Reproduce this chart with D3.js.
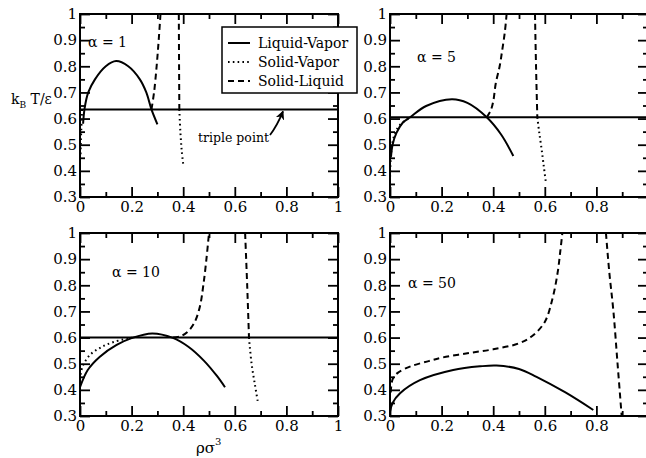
<!DOCTYPE html>
<html>
<head>
<meta charset="utf-8">
<script src="https://cdn.jsdelivr.net/npm/d3@7"></script>
<style>
  html, body { margin: 0; padding: 0; background: #fff; }
  svg { display: block; }
  text { font-family: "DejaVu Serif", "Liberation Serif", serif; fill: #000; }
</style>
</head>
<body>
<svg id="chart" width="646" height="458"></svg>
<script>
// ---------------- data ----------------
const xTickValues = [0, 0.2, 0.4, 0.6, 0.8, 1];
const xMinorTicks = [0.1, 0.3, 0.5, 0.7, 0.9];
const yTickValues = [0.3, 0.4, 0.5, 0.6, 0.7, 0.8, 0.9, 1];
const yMinorTicks = [0.35, 0.45, 0.55, 0.65, 0.75, 0.85, 0.95];
const alphas = [1, 5, 10, 50];
const triplePointT = [0.635, 0.605, 0.6, null];
const seriesNames = ["Liquid-Vapor", "Solid-Vapor", "Solid-Liquid"];

// alpha = 1
const lv1  = [[0.012,0.58],[0.018,0.64],[0.032,0.70],[0.058,0.75],[0.10,0.80],[0.14,0.82],[0.187,0.80],[0.232,0.75],[0.257,0.70],[0.277,0.635],[0.30,0.578]];
const sv1a = [[0.008,0.635],[0.005,0.56],[0.003,0.50],[0.002,0.45]];
const sv1b = [[0.385,0.635],[0.389,0.55],[0.394,0.48],[0.40,0.425]];
const sl1a = [[0.277,0.635],[0.287,0.70],[0.297,0.80],[0.305,0.90],[0.312,1.0]];
const sl1b = [[0.383,1.0],[0.384,0.80],[0.385,0.635]];
// alpha = 5
const lv5  = [[0.004,0.455],[0.01,0.50],[0.025,0.545],[0.05,0.585],[0.078,0.605],[0.14,0.648],[0.24,0.674],[0.30,0.66],[0.375,0.605],[0.43,0.54],[0.478,0.457]];
const sv5a = [[0.0,0.36],[0.003,0.45],[0.012,0.52],[0.03,0.565],[0.055,0.59],[0.08,0.605]];
const sv5b = [[0.571,0.605],[0.578,0.55],[0.588,0.48],[0.597,0.41],[0.605,0.35]];
const sl5a = [[0.375,0.605],[0.39,0.63],[0.40,0.665],[0.41,0.735],[0.425,0.80],[0.435,0.862],[0.445,0.93],[0.452,1.0]];
const sl5b = [[0.562,1.0],[0.566,0.80],[0.571,0.605]];
// alpha = 10
const lv10  = [[0.0,0.41],[0.03,0.476],[0.077,0.527],[0.142,0.572],[0.20,0.598],[0.28,0.616],[0.36,0.599],[0.42,0.565],[0.48,0.512],[0.53,0.454],[0.562,0.41]];
const sv10a = [[0.0,0.44],[0.01,0.49],[0.04,0.535],[0.08,0.562],[0.13,0.583],[0.20,0.60]];
const sv10b = [[0.655,0.60],[0.665,0.50],[0.678,0.42],[0.69,0.35]];
const sl10a = [[0.36,0.60],[0.39,0.605],[0.42,0.625],[0.445,0.66],[0.465,0.72],[0.478,0.80],[0.49,0.90],[0.50,1.0]];
const sl10b = [[0.64,1.0],[0.648,0.80],[0.655,0.60]];
// alpha = 50
const lv50  = [[0.0,0.316],[0.01,0.35],[0.039,0.387],[0.116,0.437],[0.245,0.476],[0.35,0.49],[0.413,0.493],[0.50,0.48],[0.568,0.45],[0.68,0.39],[0.788,0.323]];
const sl50a = [[0.003,0.39],[0.01,0.44],[0.03,0.465],[0.08,0.49],[0.15,0.51],[0.20,0.523],[0.30,0.54],[0.40,0.555],[0.50,0.578],[0.55,0.605],[0.60,0.66],[0.63,0.75],[0.65,0.85],[0.66,0.93],[0.668,1.0]];
const sl50b = [[0.837,1.0],[0.85,0.85],[0.866,0.70],[0.882,0.50],[0.898,0.30]];

const panelCurves = [
  {lv: [lv1],  sv: [sv1a, sv1b],   sl: [sl1a, sl1b]},
  {lv: [lv5],  sv: [sv5a, sv5b],   sl: [sl5a, sl5b]},
  {lv: [lv10], sv: [sv10a, sv10b], sl: [sl10a, sl10b]},
  {lv: [lv50], sv: [],             sl: [sl50a, sl50b]}
];

// ---------------- layout ----------------
const W = 258, H = 183;
const layout = [
  {left: 80,  top: 14,  label: [8, 33],  clipRight: false},
  {left: 390, top: 14,  label: [27, 48], clipRight: true},
  {left: 80,  top: 233, label: [32, 44], clipRight: false},
  {left: 390, top: 233, label: [18, 55], clipRight: true}
];
const styles = {
  lv: {dash: null},
  sv: {dash: "1.6,3.2"},
  sl: {dash: "6,4"}
};

const svg = d3.select("#chart");
svg.append("defs").append("marker")
  .attr("id", "arrow").attr("viewBox", "0 0 10 10")
  .attr("refX", 9).attr("refY", 5)
  .attr("markerWidth", 9).attr("markerHeight", 9)
  .attr("markerUnits", "userSpaceOnUse")
  .attr("orient", "auto")
  .append("path").attr("d", "M0,0 L10,5 L0,10 L3,5 Z").attr("fill", "#000");

const x = d3.scaleLinear().domain([0, 1]).range([0, W]);
const y = d3.scaleLinear().domain([0.3, 1]).range([H, 0]);
const fmt = d3.format("~g");
const line = d3.line().x(d => x(d[0])).y(d => y(d[1])).curve(d3.curveCatmullRom.alpha(0.5));

function styleAxis(g) {
  g.select(".domain").remove();
  g.selectAll(".tick line").attr("stroke", "#000").attr("stroke-width", 1.8);
  g.selectAll(".tick text").attr("font-family", "DejaVu Serif").attr("font-size", 15).attr("fill", "#000");
}

layout.forEach((p, i) => {
  const g = svg.append("g").attr("transform", `translate(${p.left},${p.top})`);
  const c = panelCurves[i];

  if (triplePointT[i] !== null) {
    g.append("line")
      .attr("x1", x(0)).attr("x2", x(1))
      .attr("y1", y(triplePointT[i])).attr("y2", y(triplePointT[i]))
      .attr("stroke", "#000").attr("stroke-width", 2);
  }

  ["lv", "sv", "sl"].forEach(k => {
    c[k].forEach(pts => {
      g.append("path").datum(pts)
        .attr("d", line)
        .attr("fill", "none")
        .attr("stroke", "#000")
        .attr("stroke-width", 2)
        .attr("stroke-dasharray", styles[k].dash);
    });
  });

  const xFmt = d => (p.clipRight && d === 1) ? "" : fmt(d);

  g.append("g").attr("transform", `translate(0,${H})`)
    .call(d3.axisBottom(x).tickValues(xTickValues).tickFormat(xFmt).tickSize(-10).tickPadding(4))
    .call(styleAxis);
  g.append("g").attr("transform", `translate(0,${H})`)
    .call(d3.axisBottom(x).tickValues(xMinorTicks).tickFormat("").tickSize(-5))
    .call(styleAxis);
  g.append("g")
    .call(d3.axisTop(x).tickValues(xTickValues).tickFormat("").tickSize(-10))
    .call(styleAxis);
  g.append("g")
    .call(d3.axisTop(x).tickValues(xMinorTicks).tickFormat("").tickSize(-5))
    .call(styleAxis);
  g.append("g")
    .call(d3.axisLeft(y).tickValues(yTickValues).tickFormat(fmt).tickSize(-10).tickPadding(3))
    .call(styleAxis);
  g.append("g")
    .call(d3.axisLeft(y).tickValues(yMinorTicks).tickFormat("").tickSize(-5))
    .call(styleAxis);
  g.append("g").attr("transform", `translate(${W},0)`)
    .call(d3.axisRight(y).tickValues(yTickValues).tickFormat("").tickSize(-10))
    .call(styleAxis);
  g.append("g").attr("transform", `translate(${W},0)`)
    .call(d3.axisRight(y).tickValues(yMinorTicks).tickFormat("").tickSize(-5))
    .call(styleAxis);

  g.append("rect").attr("width", W).attr("height", H)
    .attr("fill", "none").attr("stroke", "#000").attr("stroke-width", 2);

  g.append("text").attr("x", p.label[0]).attr("y", p.label[1])
    .attr("font-size", 14).text(`α = ${alphas[i]}`);

  if (i === 0) {
    const lg = g.append("g").attr("transform", "translate(142,13)");
    lg.append("rect").attr("width", 135).attr("height", 66)
      .attr("fill", "#fff").attr("stroke", "#000").attr("stroke-width", 1.5);
    ["lv", "sv", "sl"].forEach((k, j) => {
      const yy = 16 + j * 19;
      lg.append("line").attr("x1", 6).attr("x2", 28).attr("y1", yy).attr("y2", yy)
        .attr("stroke", "#000").attr("stroke-width", 2).attr("stroke-dasharray", styles[k].dash);
      lg.append("text").attr("x", 36).attr("y", yy + 5).attr("font-size", 14).text(seriesNames[j]);
    });
    g.append("text").attr("x", 118).attr("y", 128).attr("font-size", 12.5).text("triple point");
    g.append("path")
      .attr("d", `M190,121 Q197,112 ${203},${y(triplePointT[0]) + 2}`)
      .attr("fill", "none").attr("stroke", "#000").attr("stroke-width", 1.8)
      .attr("marker-end", "url(#arrow)");
  }
});

const yt = svg.append("text").attr("x", 11).attr("y", 104).attr("font-size", 14);
yt.append("tspan").text("k");
yt.append("tspan").attr("font-size", 9).attr("dy", 4).text("B");
yt.append("tspan").attr("dy", -4).text(" T/ε");

const xt = svg.append("text").attr("x", 196).attr("y", 453).attr("font-size", 15);
xt.append("tspan").text("ρσ");
xt.append("tspan").attr("font-size", 10).attr("dy", -8).text("3");
</script>
</body>
</html>
